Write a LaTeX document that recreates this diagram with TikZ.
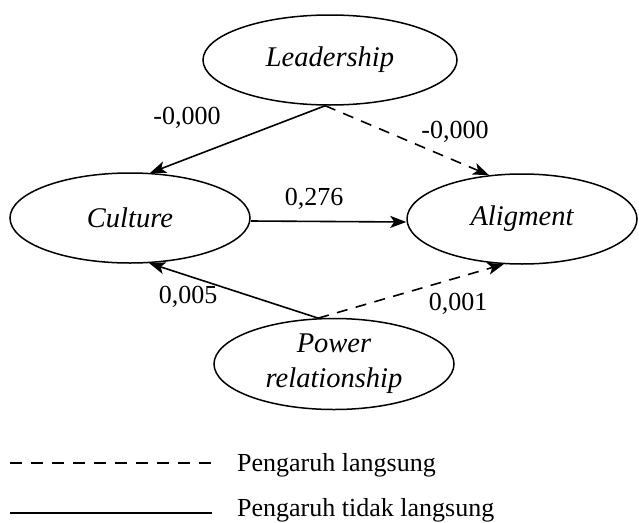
\documentclass[tikz,border=0pt]{standalone}
\usepackage{fontspec}
\setmainfont{Liberation Serif}
\usetikzlibrary{arrows.meta,shapes.geometric}
\begin{document}
\begin{tikzpicture}[x=1pt,y=-1pt,
  latent/.style={draw, ellipse, line width=1.5pt, inner sep=0pt,
    font=\fontsize{28.5}{35}\selectfont\itshape, align=center},
  arrowline/.style={line width=1.6pt, -{Stealth[length=16pt,width=12pt,inset=4pt]}},
  dasharrow/.style={arrowline, dash pattern=on 11pt off 8.5pt},
  coef/.style={font=\fontsize{26}{30}\selectfont, inner sep=0pt},
  legtext/.style={font=\fontsize{26}{30}\selectfont, anchor=base west, inner sep=0pt},
  legline/.style={line width=1.8pt}]
\useasboundingbox (0,0) rectangle (639,522);
% latent variables
\node[latent, minimum width=254pt, minimum height=90pt] (L) at (330,60) {Leadership};
\node[latent, minimum width=240pt, minimum height=90pt] (C) at (130,218) {Culture};
\node[latent, minimum width=230pt, minimum height=90pt] (A) at (522,219) {Aligment};
\node[latent, minimum width=240pt, minimum height=91pt] (P) at (334,364) {Power\\relationship};
% paths
\draw[arrowline] (L.264) -- (C.66);
\draw[dasharrow] (L.264) -- (A.127);
\draw[arrowline] ([yshift=-3pt]C.east) -- ([yshift=-3pt]A.west);
\draw[arrowline] (P.109) -- (C.-67);
\draw[dasharrow] (P.109) -- (A.-112);
% coefficients
\node[coef] (k1) at (187,118) {-0,000};
\node[coef] (k2) at (455,132) {-0,000};
\node[coef] (k3) at (314,199) {0,276};
\node[coef] (k4) at (188,297) {0,005};
\node[coef] (k5) at (458,304) {0,001};
% legend
\coordinate (d1) at (10,463);
\coordinate (d2) at (212,463);
\coordinate (s1) at (10,513);
\coordinate (s2) at (212,513);
\draw[legline, dash pattern=on 12pt off 9pt] (d1) -- (d2);
\draw[legline] (s1) -- (s2);
\node[legtext] (t1) at (237,471) {Pengaruh langsung};
\node[legtext] (t2) at (237,516) {Pengaruh tidak langsung};
\end{tikzpicture}
\end{document}
